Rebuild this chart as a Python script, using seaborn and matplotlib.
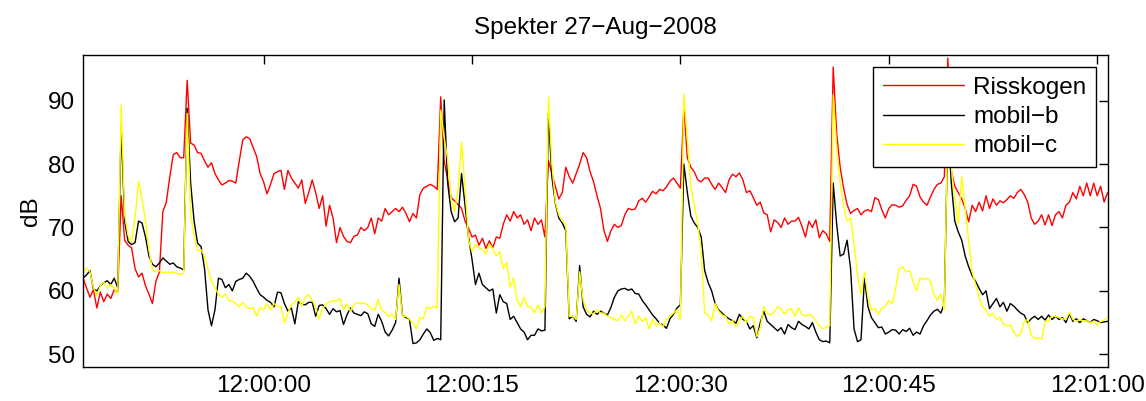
import numpy as np
import pandas as pd
import seaborn as sns
import matplotlib.pyplot as plt

# sample grid: seconds relative to 12:00:00, one reading per 0.25 s
T0 = -13.0
DT = 0.25

risskogen = [
    62.0, 60.5, 59.0, 60.2, 57.3, 59.8, 58.3, 59.5, 58.8, 60.2,
    59.8, 75.0, 68.0, 67.2, 66.8, 63.5, 62.2, 62.8, 60.8, 59.5,
    58.0, 61.5, 63.0, 72.5, 74.0, 78.0, 81.5, 81.8, 81.0, 81.0,
    93.2, 83.3, 83.0, 81.8, 81.7, 80.5, 79.5, 80.2, 78.5, 77.5,
    76.7, 77.0, 77.4, 77.3, 77.0, 80.5, 83.8, 84.3, 84.0, 82.6,
    81.2, 78.5, 77.2, 75.3, 76.8, 78.5, 78.8, 79.0, 76.0, 79.0,
    77.8, 77.0, 76.2, 77.5, 73.8, 75.5, 77.5, 75.5, 73.0, 75.0,
    70.2, 73.5, 71.5, 67.6, 70.0, 68.6, 67.8, 67.6, 68.6, 68.8,
    70.0, 69.5, 70.0, 71.5, 69.0, 71.5, 71.0, 73.0, 72.0, 72.5,
    73.0, 72.5, 73.2, 72.2, 70.9, 72.2, 71.5, 75.2, 76.2, 76.5,
    76.8, 76.5, 76.0, 90.6, 80.5, 77.5, 74.7, 74.2, 73.6, 73.0,
    71.0, 69.9, 68.5, 68.8, 67.2, 68.3, 66.7, 67.9, 66.8, 68.5,
    68.3, 70.5, 72.0, 71.0, 72.5, 71.5, 72.0, 70.5, 71.2, 69.5,
    71.5, 70.5, 71.2, 68.5, 80.5, 78.5, 76.5, 74.5, 75.5, 79.5,
    78.0, 77.0, 78.5, 80.0, 81.8, 81.0, 78.8, 77.2, 75.0, 73.0,
    69.5, 67.8, 69.5, 70.5, 70.0, 70.3, 72.0, 73.0, 72.8, 72.9,
    74.2, 74.6, 74.0, 74.8, 75.7, 75.3, 76.0, 75.8, 76.4, 77.3,
    77.8, 77.0, 76.2, 89.0, 81.0, 79.5, 78.8, 77.5, 77.2, 77.8,
    77.8, 76.8, 76.0, 77.0, 76.3, 75.5, 77.5, 78.4, 78.0, 78.6,
    77.5, 75.5, 75.8, 74.7, 73.5, 74.0, 72.3, 72.0, 69.3, 71.2,
    70.8, 70.0, 71.5, 70.5, 71.0, 71.0, 71.6, 70.2, 68.5, 71.0,
    70.0, 71.2, 68.4, 69.5, 69.0, 67.8, 95.3, 84.8, 79.5, 76.2,
    73.6, 72.2, 72.7, 73.0, 72.0, 72.6, 72.8, 72.5, 74.7, 74.4,
    72.8, 71.5, 73.0, 73.6, 73.5, 73.2, 73.4, 74.3, 75.0, 76.8,
    76.5, 74.8, 74.0, 73.5, 74.8, 76.0, 76.8, 77.0, 78.0, 96.7,
    79.0, 76.5, 75.5, 74.5, 73.0, 70.9, 73.5, 72.5, 74.0, 72.6,
    75.0, 73.0, 74.5, 73.5, 74.2, 73.9, 74.4, 75.0, 74.6, 75.5,
    76.0, 75.2, 74.0, 71.5, 70.5, 71.0, 72.0, 70.4, 72.0, 70.3,
    72.0, 72.5, 71.5, 73.5, 74.0, 75.5, 74.5, 76.5, 75.0, 77.0,
    75.0, 77.0, 75.0, 76.5, 74.0, 75.5,
]

mobil_b = [
    62.0, 62.5, 63.2, 60.3, 60.0, 60.8, 61.3, 61.6, 61.0, 62.0,
    60.5, 86.0, 71.0, 67.8, 67.3, 67.6, 71.0, 70.7, 68.5, 65.5,
    64.2, 63.8, 64.4, 65.2, 64.7, 64.2, 64.4, 63.8, 63.6, 63.3,
    88.8, 77.0, 71.0, 67.5, 67.0, 63.5, 57.0, 54.5, 57.0, 62.0,
    61.8, 60.5, 61.0, 60.0, 61.5, 61.8, 62.0, 62.8, 62.3, 61.5,
    60.4, 59.4, 59.0, 58.5, 58.2, 57.5, 59.8, 59.7, 58.0, 56.8,
    57.3, 54.8, 58.3, 57.9, 57.8, 58.2, 58.2, 56.0, 57.7, 57.8,
    57.2, 56.3, 57.2, 56.7, 56.9, 54.7, 56.2, 57.3, 56.5, 56.3,
    56.1, 56.7, 56.4, 54.8, 54.4, 56.3, 55.2, 53.5, 52.9, 53.8,
    55.0, 62.0, 56.1, 55.8, 55.5, 51.7, 51.8, 52.3, 53.2, 54.0,
    53.4, 52.2, 52.5, 52.3, 90.1, 77.0, 72.5, 70.9, 71.5, 78.5,
    73.5, 68.5, 65.0, 61.0, 62.8, 61.0, 60.5, 60.0, 60.3, 56.5,
    59.4, 58.3, 58.0, 55.5, 56.0, 55.0, 54.0, 53.5, 52.3, 53.0,
    53.0, 54.0, 53.7, 53.8, 88.0, 78.0, 73.8, 71.5, 70.7, 69.5,
    55.6, 56.0, 55.2, 64.0, 57.5, 56.3, 55.9, 56.8, 56.3, 56.8,
    56.5, 56.2, 57.4, 59.0, 60.0, 60.3, 60.4, 60.1, 60.3, 59.6,
    59.5, 58.5, 57.8, 57.0, 56.2, 55.6, 54.9, 54.6, 54.1, 55.6,
    56.3, 57.3, 57.8, 80.0, 75.5, 71.8, 70.7, 70.0, 68.5, 63.2,
    61.3, 60.0, 58.0, 57.0, 56.5, 56.0, 55.6, 55.3, 54.9, 56.3,
    55.5, 55.2, 54.0, 54.5, 52.6, 55.0, 56.8, 55.2, 54.7, 54.2,
    53.7, 54.2, 53.2, 54.7, 54.2, 53.9, 55.2, 54.7, 54.4, 54.0,
    55.0, 53.5, 52.3, 52.0, 52.1, 51.8, 77.0, 70.5, 65.5, 65.8,
    68.0, 63.5, 54.0, 52.0, 52.3, 62.0, 57.5, 55.8, 55.0, 54.2,
    54.3, 53.2, 53.5, 53.9, 53.8, 53.2, 53.9, 53.6, 54.1, 53.0,
    53.5, 53.2, 54.5, 55.3, 56.2, 56.8, 57.1, 56.5, 58.0, 86.0,
    77.0, 71.0, 69.3, 68.0, 65.5, 63.8, 62.4, 61.5, 60.4, 59.4,
    60.0, 57.2, 58.0, 58.8, 57.5, 58.2, 56.8, 58.0, 57.6, 57.0,
    56.5, 56.2, 55.0, 55.6, 56.0, 55.5, 56.0, 55.4, 56.2, 55.5,
    56.0, 55.5, 55.8, 55.0, 56.4, 55.2, 55.6, 55.0, 55.6, 55.3,
    55.0, 55.5, 55.3, 55.0, 55.1, 55.2,
]

mobil_c = [
    62.8, 63.6, 63.0, 60.5, 59.3, 60.8, 61.4, 60.4, 61.0, 60.4,
    59.5, 89.3, 72.0, 68.7, 67.7, 71.5, 77.3, 74.5, 71.0, 66.5,
    63.3, 63.0, 63.2, 62.8, 63.0, 62.9, 63.0, 62.8, 62.6, 62.8,
    88.0, 72.0, 68.8, 66.3, 66.5, 65.5, 63.5, 61.5, 60.5, 59.5,
    59.0, 59.5, 58.5, 58.4, 58.0, 57.5, 58.2, 57.4, 57.2, 57.4,
    56.0, 57.4, 57.0, 58.0, 57.0, 58.0, 57.6, 57.5, 55.0, 56.5,
    57.8, 58.2, 59.0, 57.6, 59.0, 59.4, 58.5, 57.4, 55.6, 57.3,
    57.9, 58.3, 58.4, 58.4, 58.8, 57.1, 57.9, 56.8, 57.8, 58.2,
    58.0, 58.1, 57.8, 57.2, 57.0, 58.6, 57.0, 56.6, 56.0, 56.3,
    55.5, 61.0, 56.0, 56.0, 55.5, 55.0, 54.0, 55.8, 55.6, 57.5,
    57.2, 57.6, 57.3, 88.5, 84.0, 80.8, 74.5, 72.5, 76.0, 83.5,
    76.5, 68.0, 66.2, 67.3, 66.8, 66.5, 65.8, 67.4, 66.7, 65.5,
    66.2, 63.5, 64.5, 60.5, 62.0, 58.5, 57.5, 59.0, 57.5, 57.5,
    56.5, 57.8, 56.5, 57.5, 90.6, 80.0, 74.0, 72.0, 71.0, 70.5,
    56.0, 56.0, 55.5, 63.0, 58.5, 57.0, 56.5, 56.4, 57.0, 56.5,
    56.5, 56.0, 55.8, 55.5, 55.3, 56.2, 55.3, 56.0, 56.8, 54.8,
    56.0, 55.2, 55.8, 54.0, 55.5, 54.5, 55.0, 54.3, 55.5, 56.0,
    56.5, 57.0, 55.5, 91.0, 84.0, 76.5, 73.5, 70.6, 66.0, 56.5,
    56.2, 55.3, 58.0, 56.8, 56.2, 56.0, 54.8, 55.3, 54.3, 55.3,
    56.0, 55.0, 56.0, 55.8, 52.8, 54.2, 57.5, 56.5, 56.2, 56.7,
    57.5, 57.2, 56.3, 57.0, 57.2, 56.0, 57.3, 56.3, 56.0, 56.3,
    56.0, 55.3, 54.5, 54.0, 54.3, 54.5, 90.9, 82.5, 77.0, 73.5,
    71.0, 71.5, 67.5, 62.5, 59.5, 63.0, 59.0, 57.0, 57.2, 56.3,
    57.3, 57.5, 58.5, 58.0, 60.5, 63.5, 63.8, 63.0, 63.2, 61.5,
    60.0, 62.0, 61.8, 62.0, 61.5, 59.5, 58.5, 59.5, 57.0, 88.0,
    79.5, 74.5, 70.5, 78.0, 73.0, 67.8, 63.0, 61.0, 59.0, 57.5,
    57.0, 56.0, 56.5, 55.5, 55.8, 54.8, 54.5, 54.6, 53.5, 52.8,
    53.2, 55.2, 55.5, 53.0, 52.5, 52.6, 52.4, 55.2, 55.3, 56.0,
    56.0, 55.8, 55.6, 55.5, 56.6, 55.5, 55.2, 55.5, 55.2, 55.3,
    55.0, 55.2, 54.6, 55.2, 55.4, 55.8,
]

series_names = ["Risskogen", "mobil\u2212b", "mobil\u2212c"]
series_colors = ["red", "black", "yellow"]
xtick_pos = [0, 15, 30, 45, 60]
xtick_labels = ["12:00:00", "12:00:15", "12:00:30", "12:00:45", "12:01:00"]
ytick_pos = [50, 60, 70, 80, 90]

t = T0 + DT * np.arange(len(risskogen))
frames = []
for name, vals in zip(series_names, [risskogen, mobil_b, mobil_c]):
    frames.append(pd.DataFrame({"t": t, "dB": vals, "serie": name}))
df = pd.concat(frames, ignore_index=True)

sns.set_theme(style="white")
plt.rcParams["font.family"] = ["Liberation Sans", "DejaVu Sans"]
plt.rcParams["text.color"] = "black"
plt.rcParams["axes.labelcolor"] = "black"

fig = plt.figure(figsize=(11.46, 4.01), dpi=100)
ax = fig.add_axes([0.0724, 0.0848, 0.8947, 0.7781])

sns.lineplot(data=df, x="t", y="dB", hue="serie", hue_order=series_names,
             palette=dict(zip(series_names, series_colors)),
             estimator=None, linewidth=1.0, ax=ax)

ax.set_xlim(-13.0, 60.8)
ax.set_ylim(48.0, 97.2)
ax.set_xticks(xtick_pos)
ax.set_xticklabels(xtick_labels)
ax.set_yticks(ytick_pos)
ax.set_xlabel("")
ax.set_ylabel("dB", fontsize=17.5, labelpad=4, color="black")
ax.set_title("Spekter 27\u2212Aug\u22122008", fontsize=17.5, pad=15, color="black")
ax.tick_params(direction="in", top=True, right=True, length=6.5, width=1,
               labelsize=17.5, pad=6, colors="black")
for sp in ax.spines.values():
    sp.set_color("black")
    sp.set_linewidth(1.0)

handles, labels = ax.get_legend_handles_labels()
leg = ax.legend(handles, labels, loc="upper right", fontsize=17.5,
                fancybox=False, edgecolor="black", framealpha=1,
                borderaxespad=0.5, handlelength=3.35, handletextpad=0.36,
                borderpad=0.4, labelspacing=0.3, labelcolor="black")
leg.get_frame().set_linewidth(1.0)

fig.savefig("out.png", dpi=100)
